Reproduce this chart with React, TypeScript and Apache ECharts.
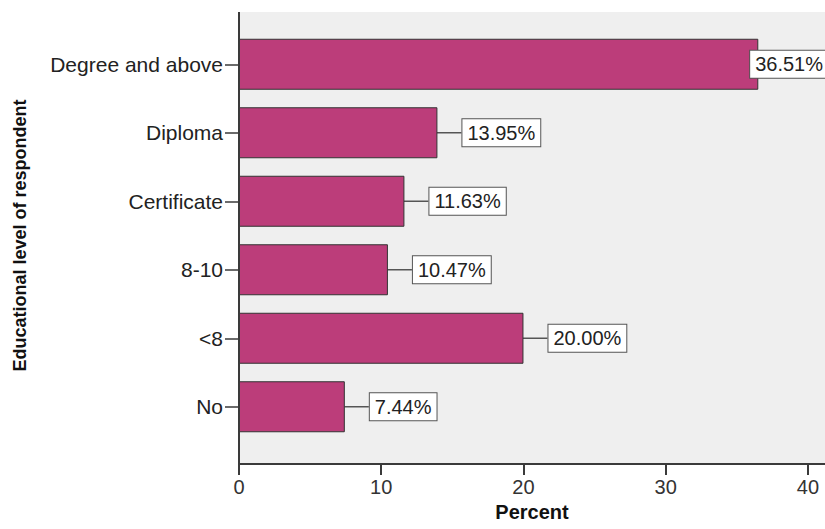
import React, { useEffect, useRef } from "react";
import * as echarts from "echarts";

// Education level categories, bottom to top
const categories = ["No", "<8", "8-10", "Certificate", "Diploma", "Degree and above"];
// Percent of respondents per category
const percents = [7.44, 20.0, 10.47, 11.63, 13.95, 36.51];
// Tick values on the percent axis
const percentTicks = [0, 10, 20, 30, 40];

const FONT = "Arial, 'Liberation Sans', sans-serif";

export default function App() {
  const ref = useRef<HTMLDivElement>(null);

  useEffect(() => {
    document.body.style.margin = "0";
    if (!ref.current) return;
    const chart = echarts.init(ref.current, undefined, { renderer: "svg" });
    const W = 825;

    chart.setOption({
      animation: false,
      backgroundColor: "#ffffff",
      textStyle: { fontFamily: FONT },
      grid: { left: 239, right: 0, top: 30, bottom: 88, containLabel: false },
      graphic: [
        {
          type: "rect",
          z: -10,
          shape: { x: 239, y: 12, width: 586, height: 452 },
          style: { fill: "#EFEFEF" },
          silent: true,
        },
        {
          type: "line",
          z: 10,
          shape: { x1: 239, y1: 12, x2: 239, y2: 465 },
          style: { stroke: "#3a3a3a", lineWidth: 2 },
          silent: true,
        },
      ],
      xAxis: {
        type: "value",
        min: 0,
        max: 41.2,
        interval: 10,
        offset: 23,
        name: "Percent",
        nameLocation: "middle",
        nameGap: 38,
        nameTextStyle: { fontSize: 20, fontWeight: "bold", color: "#111", fontFamily: FONT },
        splitLine: { show: false },
        axisLine: { show: true, lineStyle: { color: "#3a3a3a", width: 2 } },
        axisTick: {
          show: true,
          length: 11,
          customValues: percentTicks,
          lineStyle: { color: "#3a3a3a", width: 2 },
        },
        axisLabel: {
          customValues: percentTicks,
          fontSize: 20,
          color: "#333",
          margin: 13,
          fontFamily: FONT,
        },
      },
      yAxis: {
        type: "category",
        data: categories,
        name: "Educational level of respondent",
        nameLocation: "middle",
        nameGap: 210,
        nameTextStyle: { fontSize: 18, fontWeight: "bold", color: "#111", fontFamily: FONT },
        axisLine: { show: false },
        axisTick: {
          show: true,
          alignWithLabel: true,
          length: 14,
          lineStyle: { color: "#3a3a3a", width: 1.5 },
        },
        axisLabel: { fontSize: 21, color: "#222", margin: 16, fontFamily: FONT },
      },
      series: [
        {
          type: "bar",
          data: percents,
          barWidth: 51,
          itemStyle: { color: "#BC3D7A", borderColor: "#333", borderWidth: 1 },
          label: {
            show: true,
            position: "right",
            distance: 0,
            formatter: (p: any) => Number(p.value).toFixed(2) + "%",
            fontSize: 20,
            color: "#222",
            fontFamily: FONT,
            backgroundColor: "#ffffff",
            borderColor: "#555",
            borderWidth: 1,
            padding: [4, 5, 3, 5],
          },
          labelLine: { show: true, lineStyle: { color: "#555", width: 1.5 } },
          labelLayout: (params: any) => {
            const r = params.labelRect;
            const right = r.x + r.width + 25;
            if (right > W) return { dx: W - (r.x + r.width) + 4 };
            return { dx: 25 };
          },
        },
      ],
    });

    return () => chart.dispose();
  }, []);

  return <div ref={ref} style={{ width: 825, height: 529 }} />;
}
